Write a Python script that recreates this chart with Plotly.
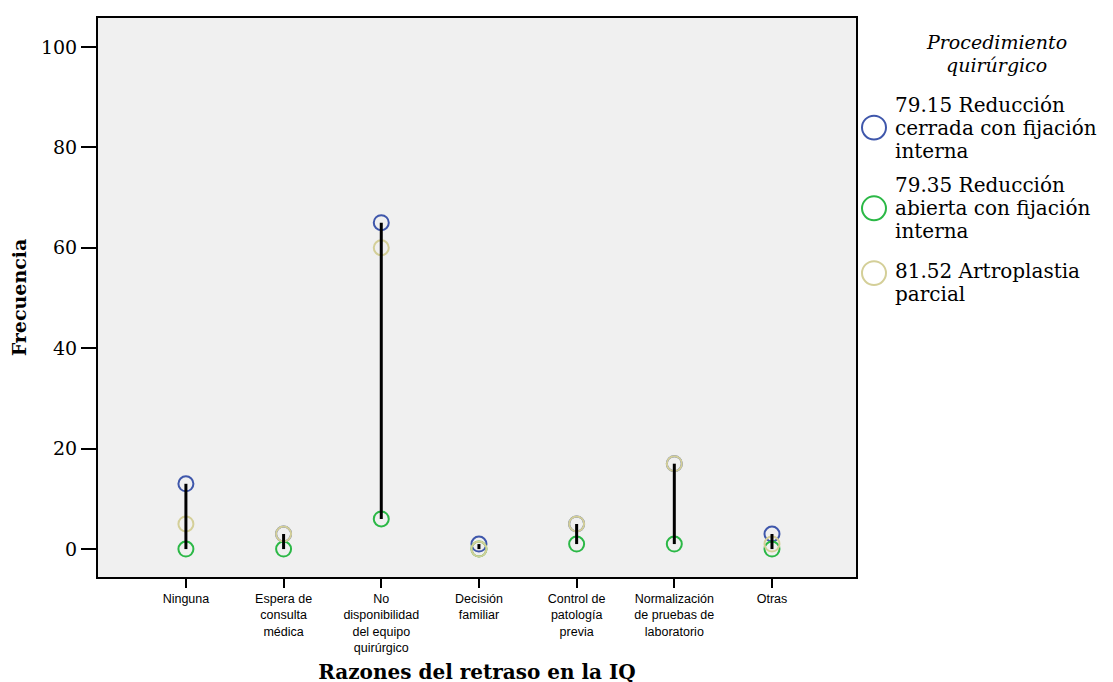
import plotly.graph_objects as go

categories = ["Ninguna", "Espera de<br>consulta<br>médica", "No<br>disponibilidad<br>del equipo<br>quirúrgico",
              "Decisión<br>familiar", "Control de<br>patología<br>previa", "Normalización<br>de pruebas de<br>laboratorio", "Otras"]
cerrada = [13, 3, 65, 1, 5, 17, 3]
abierta = [0, 0, 6, 0, 1, 1, 0]
artro = [5, 3, 60, 0, 5, 17, 1]
y_ticks = [0, 20, 40, 60, 80, 100]

legend_title = ["Procedimiento", "quirúrgico"]
names = [["79.15 Reducción", "cerrada con fijación", "interna"],
         ["79.35 Reducción", "abierta con fijación", "interna"],
         ["81.52 Artroplastia", "parcial"]]
colors = ["#3f57ab", "#2bb846", "#d4cf98"]
series = [cerrada, abierta, artro]

W, H = 1113, 682
L, R, T, B = 90, 265, 8, 113
OFF = 8  # page body offset
PW, PH = W - L - R, H - T - B


def px(X):
    return (X - OFF - L) / PW


def py(Y):
    return (H - B - (Y - OFF)) / PH


xs = list(range(len(categories)))
fig = go.Figure()
for s, n, c in zip(series, names, colors):
    fig.add_trace(go.Scatter(x=xs, y=s, mode="markers", name=" ".join(n), showlegend=False,
                             marker=dict(symbol="circle-open", size=15, color=c, line=dict(width=2, color=c))))

# drop lines from min to max
lx, ly = [], []
for i in xs:
    vals = [s[i] for s in series]
    lx += [i, i, None]
    ly += [min(vals), max(vals), None]
fig.add_trace(go.Scatter(x=lx, y=ly, mode="lines", line=dict(color="black", width=3),
                         showlegend=False, hoverinfo="skip"))

serif = "DejaVu Serif"

# manual legend
annotations = []
shapes = []
for j, t in enumerate(legend_title):
    annotations.append(dict(text="<i>" + t + "</i>", x=px(996), y=py(40 + 23 * j), xref="paper", yref="paper",
                            xanchor="center", yanchor="middle", showarrow=False,
                            font=dict(family=serif, size=19)))
item_tops = [103, 184, 270]
for k, (n, c) in enumerate(zip(names, colors)):
    top = item_tops[k]
    for j, line in enumerate(n):
        annotations.append(dict(text=line, x=px(893), y=py(top + 23 * j), xref="paper", yref="paper",
                                xanchor="left", yanchor="middle", showarrow=False,
                                font=dict(family=serif, size=20)))
    cy = top + 23 if len(n) == 3 else top + 2
    shapes.append(dict(type="circle", xref="paper", yref="paper",
                       x0=px(874 - 12), x1=px(874 + 12), y0=py(cy + 12), y1=py(cy - 12),
                       line=dict(color=c, width=2), fillcolor="rgba(0,0,0,0)"))

fig.update_layout(
    width=W, height=H,
    margin=dict(l=L, r=R, t=T, b=B),
    paper_bgcolor="white", plot_bgcolor="#f0f0f0",
    font=dict(family=serif, color="black", size=18),
    showlegend=False,
    annotations=annotations, shapes=shapes,
    xaxis=dict(range=[-0.9, 6.86], tickmode="array", tickvals=xs, ticktext=categories,
               showgrid=False, zeroline=False, showline=True, linecolor="black", linewidth=2, mirror=True,
               ticks="outside", ticklen=9, tickwidth=2, tickcolor="black",
               tickfont=dict(family="Liberation Sans", size=12.5),
               title=dict(text="<b>Razones del retraso en la IQ</b>", font=dict(family=serif, size=20), standoff=11)),
    yaxis=dict(range=[-5.56, 105.75], tickmode="array", tickvals=y_ticks,
               showgrid=False, zeroline=False, showline=True, linecolor="black", linewidth=2, mirror=True,
               ticks="outside", ticklen=15, tickwidth=2, tickcolor="black",
               tickfont=dict(family=serif, size=19),
               title=dict(text="<b>Frecuencia</b>", font=dict(family=serif, size=19), standoff=12)),
)
fig.write_html("out.html")
